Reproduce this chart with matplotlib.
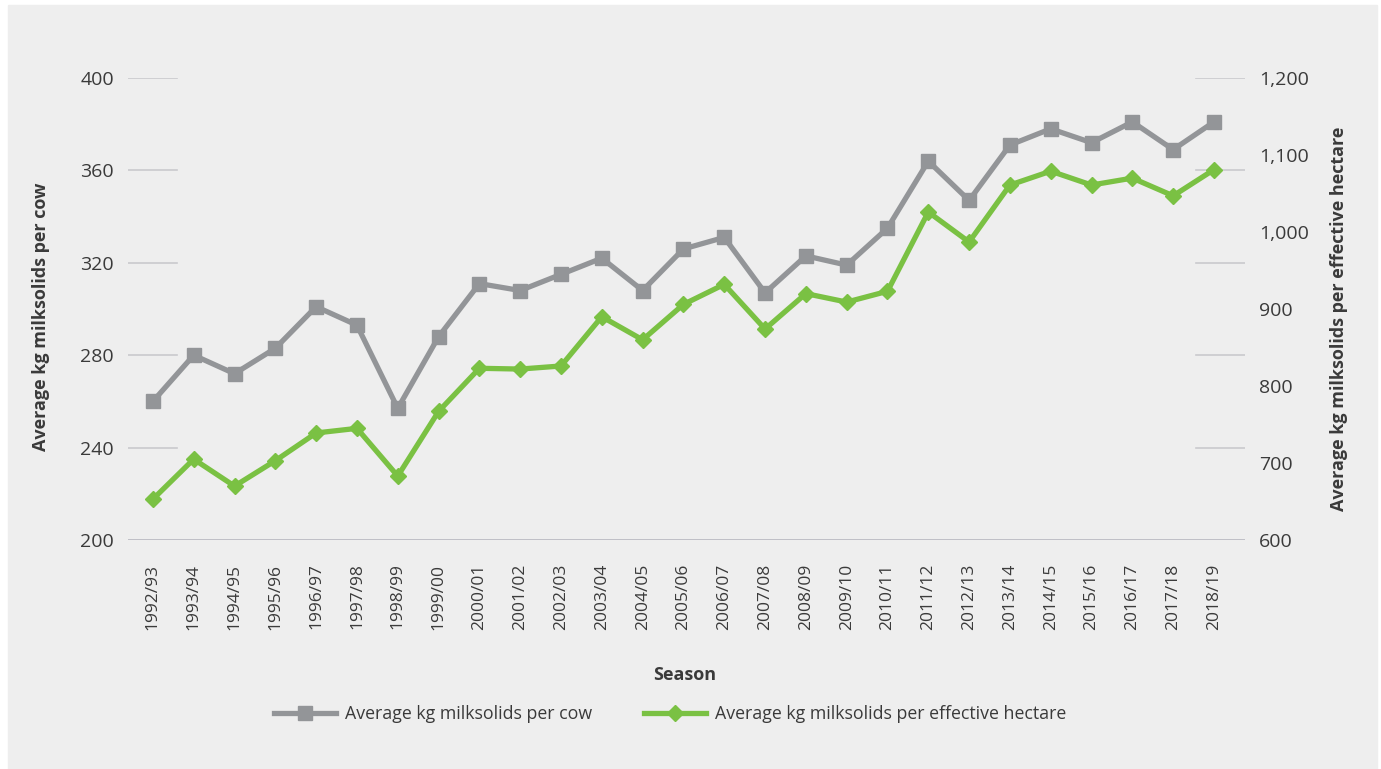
import matplotlib

matplotlib.use("Agg")
import matplotlib.pyplot as plt
from matplotlib.lines import Line2D
from matplotlib.patches import Rectangle
from matplotlib.ticker import FuncFormatter

# ── data ────────────────────────────────────────────────────────────────────
SEASONS = [
    "1992/93", "1993/94", "1994/95", "1995/96", "1996/97", "1997/98",
    "1998/99", "1999/00", "2000/01", "2001/02", "2002/03", "2003/04",
    "2004/05", "2005/06", "2006/07", "2007/08", "2008/09", "2009/10",
    "2010/11", "2011/12", "2012/13", "2013/14", "2014/15", "2015/16",
    "2016/17", "2017/18", "2018/19",
]
PER_COW = [
    260, 280, 272, 283, 301, 293, 257, 288, 311, 308, 315, 322, 308, 326,
    331, 307, 323, 319, 335, 364, 347, 371, 378, 372, 381, 369, 381,
]
PER_HA = [
    653, 705, 670, 703, 739, 745, 683, 767, 823, 822, 826, 890, 860, 906,
    932, 874, 920, 909, 923, 1026, 987, 1061, 1079, 1061, 1070, 1047, 1081,
]
LEFT_TICKS = [200, 240, 280, 320, 360, 400]
RIGHT_TICKS = [600, 700, 800, 900, 1000, 1100, 1200]

C_COW = "#939598"
C_HA = "#7ac143"
BG = "#eeeeee"
INK = "#3a3a3a"
GRID = "#c9c9cd"

plt.rcParams["font.family"] = ["Open Sans", "DejaVu Sans"]

fig = plt.figure(figsize=(13.81, 7.69), dpi=100)
fig.patch.set_facecolor("white")
fig.patches.append(Rectangle((8 / 1381, 0), 1369 / 1381, 764 / 769,
                             transform=fig.transFigure, color=BG, zorder=-10))

ax = fig.add_axes([128 / 1381, 1 - 540 / 769, 1117 / 1381, 462 / 769])
ax.set_facecolor("none")
ax2 = ax.twinx()

x = list(range(len(SEASONS)))
ax.set_xlim(-0.61, 26.76)
ax.set_ylim(200, 400)
ax2.set_ylim(600, 1200)

# stub gridlines at both ends, full line on the base
for v in LEFT_TICKS[1:]:
    ax.axhline(v, xmin=0, xmax=0.044, color=GRID, lw=1.2, zorder=1)
    ax.axhline(v, xmin=0.956, xmax=1, color=GRID, lw=1.2, zorder=1)
ax.axhline(200, color="#bfbfc6", lw=1.4, zorder=1)

ax.plot(x, PER_COW, color=C_COW, lw=3.8, marker="s", ms=9.5,
        zorder=3, solid_joinstyle="miter")
ax2.plot(x, PER_HA, color=C_HA, lw=3.8, marker="D", ms=8.5,
         zorder=3, solid_joinstyle="miter")

for a in (ax, ax2):
    for s in a.spines.values():
        s.set_visible(False)
    a.tick_params(length=0, colors=INK, labelsize=14)

ax.set_yticks(LEFT_TICKS)
ax.tick_params(axis="y", pad=10)
ax2.set_yticks(RIGHT_TICKS)
ax2.yaxis.set_major_formatter(FuncFormatter(lambda v, _: f"{v:,.0f}"))
ax2.tick_params(axis="y", pad=10)

ax.set_xticks(x)
ax.set_xticklabels(SEASONS, rotation=90, fontsize=12.5, color=INK)
ax.tick_params(axis="x", pad=17)

ax.set_ylabel("Average kg milksolids per cow", fontsize=13, fontweight="bold",
              color=INK)
ax.yaxis.set_label_coords(-0.07, 0.483)
ax2.set_ylabel("Average kg milksolids per effective hectare", fontsize=13,
               fontweight="bold", color=INK)
ax2.yaxis.set_label_coords(1.076, 0.478)
fig.text(685 / 1381, 1 - 675 / 769, "Season", fontsize=13, fontweight="bold",
         color=INK, ha="center", va="center")

handles = [
    Line2D([], [], color=C_COW, lw=3.8, marker="s", ms=9.5),
    Line2D([], [], color=C_HA, lw=3.8, marker="D", ms=8.5),
]
fig.legend(handles, ["Average kg milksolids per cow",
                     "Average kg milksolids per effective hectare"],
           loc="center", bbox_to_anchor=(670 / 1381, 1 - 714 / 769), ncol=2,
           frameon=False, fontsize=12.8, handlelength=3.5, handletextpad=0.5,
           columnspacing=2.9, labelcolor=INK)

fig.savefig("out.png", dpi=100, facecolor="white")
